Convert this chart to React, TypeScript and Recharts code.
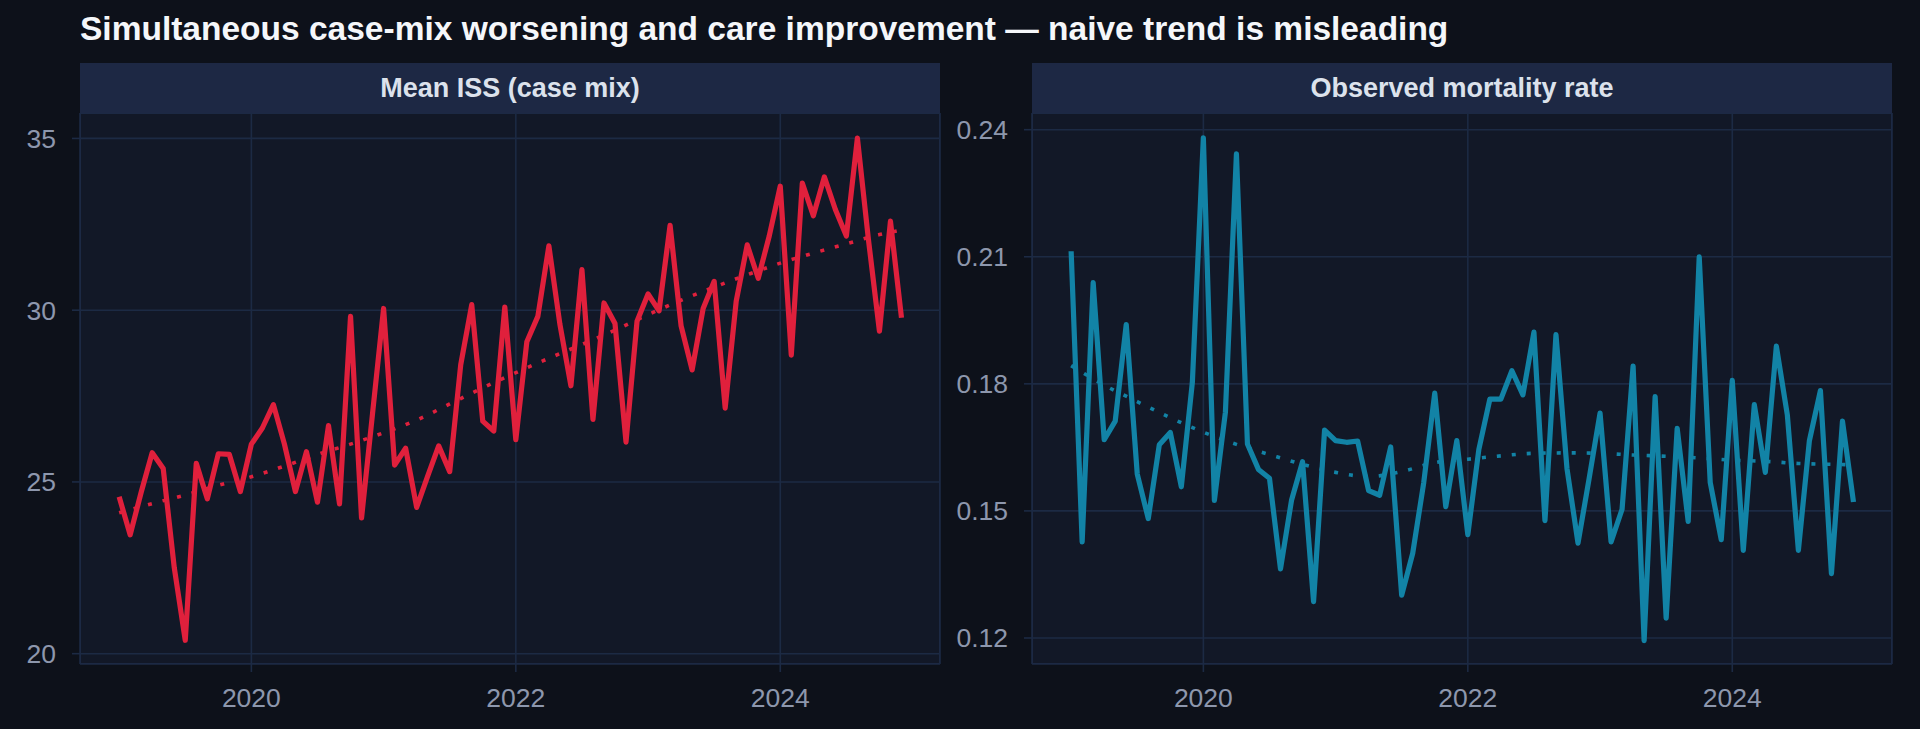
import React from 'react';
import { LineChart, Line, XAxis, YAxis, CartesianGrid } from 'recharts';

// monthly observations, Jan 2019 .. Dec 2024
const months: string[] = [];
for (let y = 2019; y <= 2024; y++) {
  for (let m = 1; m <= 12; m++) months.push(`${y}-${String(m).padStart(2, '0')}`);
}

const issMean = [
  24.57, 23.46, 24.7, 25.85, 25.39, 22.51, 20.39, 25.54, 24.51, 25.82, 25.8, 24.72,
  26.1, 26.57, 27.25, 26.1, 24.72, 25.88, 24.41, 26.64, 24.36, 29.82, 23.95, 27.0,
  30.05, 25.49, 25.98, 24.26, 25.17, 26.05, 25.3, 28.41, 30.16, 26.77, 26.48, 30.09,
  26.23, 29.08, 29.82, 31.87, 29.59, 27.8, 31.18, 26.82, 30.21, 29.61, 26.16, 29.68,
  30.47, 29.98, 32.47, 29.54, 28.26, 30.05, 30.84, 27.15, 30.26, 31.9, 30.93, 32.16,
  33.61, 28.69, 33.7, 32.75, 33.88, 32.93, 32.16, 35.01, 32.06, 29.39, 32.59, 29.78,
];

const mortality = [
  0.2113, 0.1427, 0.2039, 0.1668, 0.1712, 0.194, 0.1587, 0.1482, 0.1656, 0.1685, 0.1557, 0.1803,
  0.2381, 0.1525, 0.1733, 0.2343, 0.1658, 0.1598, 0.1577, 0.1363, 0.1525, 0.1616, 0.1286, 0.1691,
  0.1666, 0.1662, 0.1665, 0.1548, 0.1537, 0.1651, 0.1301, 0.14, 0.1567, 0.1778, 0.151, 0.1666,
  0.1444, 0.1645, 0.1764, 0.1764, 0.1831, 0.1774, 0.1922, 0.1477, 0.1916, 0.16, 0.1424, 0.1575,
  0.1731, 0.1427, 0.1504, 0.1842, 0.1194, 0.177, 0.1247, 0.1695, 0.1475, 0.21, 0.1567, 0.1432,
  0.1808, 0.1407, 0.1751, 0.1591, 0.1889, 0.1726, 0.1407, 0.1666, 0.1784, 0.1352, 0.1712, 0.1521,
];

// smoothed trend, read at every third month (and the last one)
const trendIdx = [0, 3, 6, 9, 12, 15, 18, 21, 24, 27, 30, 33, 36, 39, 42, 45, 48, 51, 54, 57, 60, 63, 66, 69, 71];
const issTrend = [
  24.1, 24.37, 24.62, 24.9, 25.15, 25.46, 25.8, 26.1, 26.43, 26.8, 27.27, 27.74, 28.18,
  28.6, 29.0, 29.42, 29.87, 30.29, 30.67, 31.03, 31.37, 31.66, 31.93, 32.2, 32.33,
];
const mortTrend = [
  0.1843, 0.1797, 0.1758, 0.172, 0.1686, 0.1657, 0.1633, 0.161, 0.1591, 0.1581, 0.1593, 0.1614, 0.1622,
  0.163, 0.1636, 0.1637, 0.1636, 0.1632, 0.1629, 0.1625, 0.162, 0.1617, 0.1612, 0.161, 0.1609,
];

const yearTicks = [2020, 2022, 2024];
const issTicks = [20, 25, 30, 35];
const mortTicks = [0.12, 0.15, 0.18, 0.21, 0.24];

const toYear = (s: string) => parseInt(s.slice(0, 4), 10) + (parseInt(s.slice(5), 10) - 1) / 12;

const rows: any[] = months.map((mo, i) => ({
  t: toYear(mo),
  iss: issMean[i],
  mort: mortality[i],
}));
trendIdx.forEach((idx, k) => {
  rows[idx].issTrend = issTrend[k];
  rows[idx].mortTrend = mortTrend[k];
});

const FONT = '"Liberation Sans", Arial, Helvetica, sans-serif';
const GRID = '#1c2a44';
const TICK_TEXT = '#8d97ad';

interface PanelProps {
  left: number;
  label: string;
  valueKey: string;
  trendKey: string;
  color: string;
  domain: [number, number];
  ticks: number[];
  fmt: (v: number) => string;
}

const Panel: React.FC<PanelProps> = ({ left, label, valueKey, trendKey, color, domain, ticks, fmt }) => {
  return (
    <>
      <div
        style={{
          position: 'absolute', left: left + 80, top: 63, width: 860, height: 50,
          background: '#1d2844', color: '#dce2ec', fontFamily: FONT, fontWeight: 700,
          fontSize: 27, lineHeight: '50px', textAlign: 'center',
        }}
      >
        {label}
      </div>
      <div
        style={{
          position: 'absolute', left: left + 80, top: 113, width: 860, height: 551,
          background: '#121827', border: '1.5px solid #1e2a46', boxSizing: 'border-box',
        }}
      />
      <div style={{ position: 'absolute', left, top: 113 }}>
        <LineChart width={960} height={616} data={rows} margin={{ top: 0, right: 20, bottom: 0, left: 0 }}>
          <CartesianGrid stroke={GRID} strokeWidth={1.6} />
          <XAxis
            type="number"
            dataKey="t"
            domain={[2018.704, 2025.208]}
            allowDataOverflow
            ticks={yearTicks}
            interval={0}
            height={65}
            tickSize={8}
            tickMargin={16}
            axisLine={false}
            tickLine={{ stroke: GRID, strokeWidth: 1.6 }}
            tick={{ fill: TICK_TEXT, fontSize: 26.5, fontFamily: FONT }}
          />
          <YAxis
            type="number"
            domain={domain}
            allowDataOverflow
            ticks={ticks}
            interval={0}
            width={80}
            tickSize={8}
            tickMargin={16}
            axisLine={false}
            tickLine={{ stroke: GRID, strokeWidth: 1.6 }}
            tick={{ fill: TICK_TEXT, fontSize: 26.5, fontFamily: FONT }}
            tickFormatter={fmt}
          />
          <Line
            type="monotone"
            dataKey={trendKey}
            connectNulls
            stroke={color}
            strokeWidth={3.6}
            strokeDasharray="4 11"
            dot={false}
            activeDot={false}
            isAnimationActive={false}
          />
          <Line
            type="linear"
            dataKey={valueKey}
            stroke={color}
            strokeWidth={5.2}
            strokeLinejoin="round"
            dot={false}
            activeDot={false}
            isAnimationActive={false}
          />
        </LineChart>
      </div>
    </>
  );
};

export default function App() {
  return (
    <div style={{ position: 'absolute', left: 0, top: 0, width: 1920, height: 729, background: '#0d111a', overflow: 'hidden' }}>
      <div
        style={{
          position: 'absolute', left: 80, top: 12, fontFamily: FONT, fontWeight: 700,
          fontSize: 33.5, lineHeight: 1, color: '#f5f7fa', whiteSpace: 'nowrap',
        }}
      >
        Simultaneous case-mix worsening and care improvement — naive trend is misleading
      </div>
      <Panel
        left={0}
        label="Mean ISS (case mix)"
        valueKey="iss"
        trendKey="issTrend"
        color="#e0203c"
        domain={[19.7, 35.74]}
        ticks={issTicks}
        fmt={(v) => String(v)}
      />
      <Panel
        left={952}
        label="Observed mortality rate"
        valueKey="mort"
        trendKey="mortTrend"
        color="#1283a6"
        domain={[0.11386, 0.24394]}
        ticks={mortTicks}
        fmt={(v) => v.toFixed(2)}
      />
    </div>
  );
}
